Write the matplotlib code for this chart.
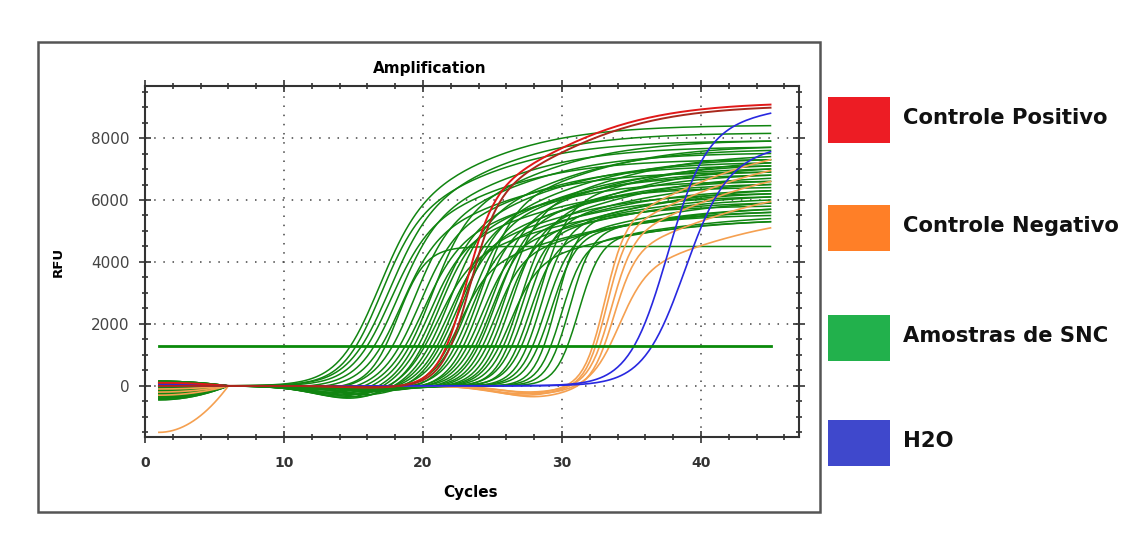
#!/usr/bin/env python3
import numpy as np
import matplotlib
matplotlib.use("Agg")
import matplotlib.pyplot as plt
from matplotlib.patches import Rectangle

# threshold line (RFU) and cycle range
THRESH = 1300
CYCLE_FIRST, CYCLE_LAST = 1, 45

# Amostras de SNC: crossing cycle, RFU at cycle 45, rise width, slow-tail share,
# baseline at cycle 1, dip depth before the rise
green_ct = [14.8, 15.2, 15.6, 16.0, 16.5, 17.0, 17.3, 17.8, 18.3, 18.7,
            19.0, 19.3, 19.6, 19.9, 20.1, 20.4, 20.7, 21.0, 21.2, 21.5,
            21.8, 22.0, 22.3, 22.6, 22.9, 23.2, 23.5, 23.8, 24.0, 24.3,
            24.6, 24.9, 25.2, 25.5, 25.8, 26.1, 26.4, 26.8, 27.1, 27.5,
            27.9, 28.3, 28.7, 29.2, 29.7, 30.4]
green_top = [8400, 7900, 8150, 7300, 7700, 6900, 4500, 7500, 7100, 6600,
             7900, 6400, 7200, 6800, 5800, 7600, 6200, 7000, 6500, 7300,
             5500, 6900, 6100, 7700, 6600, 5900, 7100, 6300, 6800, 5600,
             7400, 6200, 6700, 5300, 7000, 6000, 6500, 5700, 7200, 6300,
             5900, 5600, 6100, 5300, 5700, 5400]
green_s = [1.5, 1.4, 1.5, 1.4, 1.4, 1.3, 1.0, 1.3, 1.3, 1.3,
           1.3, 1.2, 1.3, 1.2, 1.2, 1.3, 1.2, 1.2, 1.2, 1.2,
           1.1, 1.2, 1.1, 1.2, 1.1, 1.1, 1.2, 1.1, 1.1, 1.0,
           1.1, 1.0, 1.0, 1.0, 1.0, 0.9, 1.0, 0.9, 1.0, 0.9,
           0.9, 0.9, 0.8, 0.8, 0.8, 0.8]
green_slow = [0.42, 0.42, 0.42, 0.42, 0.42, 0.42, 0.0, 0.42, 0.42, 0.42,
              0.42, 0.42, 0.42, 0.42, 0.42, 0.42, 0.42, 0.42, 0.42, 0.42,
              0.42, 0.35, 0.35, 0.35, 0.35, 0.35, 0.35, 0.35, 0.35, 0.35,
              0.35, 0.35, 0.35, 0.35, 0.35, 0.28, 0.28, 0.28, 0.28, 0.28,
              0.28, 0.2, 0.2, 0.2, 0.2, 0.2]
green_start = [-300, 100, -450, 50, -200, 150, -100, -350, 0, -250,
               100, -400, -150, 50, -300, 150, -50, -200, 100, -450,
               0, -300, 150, -100, -250, 50, -400, 100, -150, -350,
               0, -200, 150, -50, -300, 100, -400, -100, 50, -250,
               150, -150, 0, -350, 100, -200]
green_dip = [0, 0, 0, 0, -50, -80, -100, -150, -200, -250,
             -300, -350, -400, -420, -300, -380, -250, -200, -300, -150,
             -200, -120, -180, -100, -150, -80, -120, -60, -100, -50,
             -80, -60, -40, -50, -30, -40, -20, -30, 0, -20,
             0, 0, -20, 0, 0, 0]

# Controle Negativo
orange_ct = [32.2, 32.4, 32.7, 33.0, 33.4]
orange_top = [7300, 6950, 6600, 5950, 5100]
orange_s = [0.75, 0.75, 0.8, 0.8, 1.0]
orange_slow = [0.45, 0.45, 0.45, 0.45, 0.45]
orange_start = [-1500, -200, -100, -300, 0]
orange_dip = [-250, -300, -200, -350, -250]

# H2O
blue_ct = [35.2, 36.5]
blue_top = [8800, 7560]
blue_s = [1.4, 1.5]
blue_slow = [0.15, 0.15]
blue_start = [0, 50]
blue_dip = [0, 0]

# Controle Positivo
red_ct = [21.7, 22.0]
red_top = [9080, 8980]
red_s = [1.0, 1.0]
red_slow = [0.45, 0.45]
red_start = [100, 0]
red_dip = [-60, -40]

legend_labels = ["Controle Positivo", "Controle Negativo", "Amostras de SNC", "H2O"]
legend_colors = ["#ed1c24", "#ff7f27", "#22b14c", "#3f48cc"]
legend_top_px = [97, 205, 315, 420]


def _sig(z):
    return 1.0 / (1.0 + np.exp(-z))


def _shape(x, mid, s, slow):
    # fast exponential rise, then a slow drift towards the plateau
    return _sig((x - mid) / s) * ((1 - slow) + slow * _sig((x - mid - 4.4) / 4.5))


def amp_curve(x, ct, top, s, slow, start, dip):
    """curve scaled so it reads `top` at the last cycle and crosses THRESH at ct"""
    lo, hi = ct - 10, ct + 25
    for _ in range(60):
        mid = (lo + hi) / 2
        v = top * _shape(ct, mid, s, slow) / _shape(CYCLE_LAST, mid, s, slow)
        if v > THRESH:
            lo = mid
        else:
            hi = mid
    y = top * _shape(x, mid, s, slow) / _shape(CYCLE_LAST, mid, s, slow)
    base = start * np.clip(1 - ((x - 1) / 5.0) ** 2, 0, None)
    base = base + dip * np.exp(-((x - (ct - 5)) / 3.5) ** 2)
    return y + base


x = np.linspace(CYCLE_FIRST, CYCLE_LAST, 177)

W, H = 1137, 541
fig = plt.figure(figsize=(W / 100, H / 100), dpi=100)
fig.patches.append(Rectangle((38 / W, 1 - 512 / H), 782 / W, 470 / H,
                             transform=fig.transFigure, fill=False,
                             edgecolor="#555555", lw=1.8))
ax = fig.add_axes([145 / W, 1 - 437 / H, 654 / W, 351 / H])

for i in range(len(green_ct)):
    ax.plot(x, amp_curve(x, green_ct[i], green_top[i], green_s[i], green_slow[i],
                         green_start[i], green_dip[i]), color="#118511", lw=1.1)
for i in range(len(orange_ct)):
    ax.plot(x, amp_curve(x, orange_ct[i], orange_top[i], orange_s[i], orange_slow[i],
                         orange_start[i], orange_dip[i]), color="#f5a050", lw=1.2)
for i in range(len(blue_ct)):
    ax.plot(x, amp_curve(x, blue_ct[i], blue_top[i], blue_s[i], blue_slow[i],
                         blue_start[i], blue_dip[i]), color="#2828e0", lw=1.2)
red_cols = ["#e01818", "#a8281c"]
for i in range(len(red_ct)):
    ax.plot(x, amp_curve(x, red_ct[i], red_top[i], red_s[i], red_slow[i],
                         red_start[i], red_dip[i]), color=red_cols[i], lw=1.4)

ax.plot([CYCLE_FIRST, CYCLE_LAST], [THRESH, THRESH], color="#0a8a0a", lw=2)

ax.set_xlim(0, 47.05)
ax.set_ylim(-1650, 9680)
ax.set_xticks([0, 10, 20, 30, 40])
ax.set_xticks(np.arange(0, 47, 2), minor=True)
ax.set_yticks([0, 2000, 4000, 6000, 8000])
ax.set_yticks(np.arange(-1500, 9700, 500), minor=True)
ax.grid(True, which="major", linestyle=(0, (1, 5)), color="#444444", lw=1.1)
ax.tick_params(which="both", direction="inout", top=True, right=True,
               color="#333333", width=1.2)
ax.tick_params(which="major", length=8)
ax.tick_params(which="minor", length=5)
ax.tick_params(axis="y", labelsize=11, labelcolor="#444444", pad=7)
ax.tick_params(axis="x", labelsize=10, labelcolor="#333333", pad=10)
for lab in ax.get_xticklabels():
    lab.set_fontweight("bold")
for sp in ax.spines.values():
    sp.set_color("#333333")
    sp.set_linewidth(1.5)

ax.text(0.436, 1.051, "Amplification", transform=ax.transAxes, ha="center",
        va="center", fontsize=11, fontweight="bold")
ax.text(-0.133, 0.4986, "RFU", transform=ax.transAxes, rotation=90, ha="center",
        va="center", fontsize=9.5, fontweight="bold")
ax.text(0.4985, -0.157, "Cycles", transform=ax.transAxes, ha="center",
        va="center", fontsize=11, fontweight="bold")

# legend boxes outside the framed plot
for lab, col, top in zip(legend_labels, legend_colors, legend_top_px):
    fig.patches.append(Rectangle((828 / W, 1 - (top + 46) / H), 62 / W, 46 / H,
                                 transform=fig.transFigure, facecolor=col,
                                 edgecolor="none"))
    fig.text(903 / W, 1 - (top + 21) / H, lab, ha="left", va="center",
             fontsize=15.2, fontweight="bold", color="#111111")

fig.savefig("out.png", dpi=100)
